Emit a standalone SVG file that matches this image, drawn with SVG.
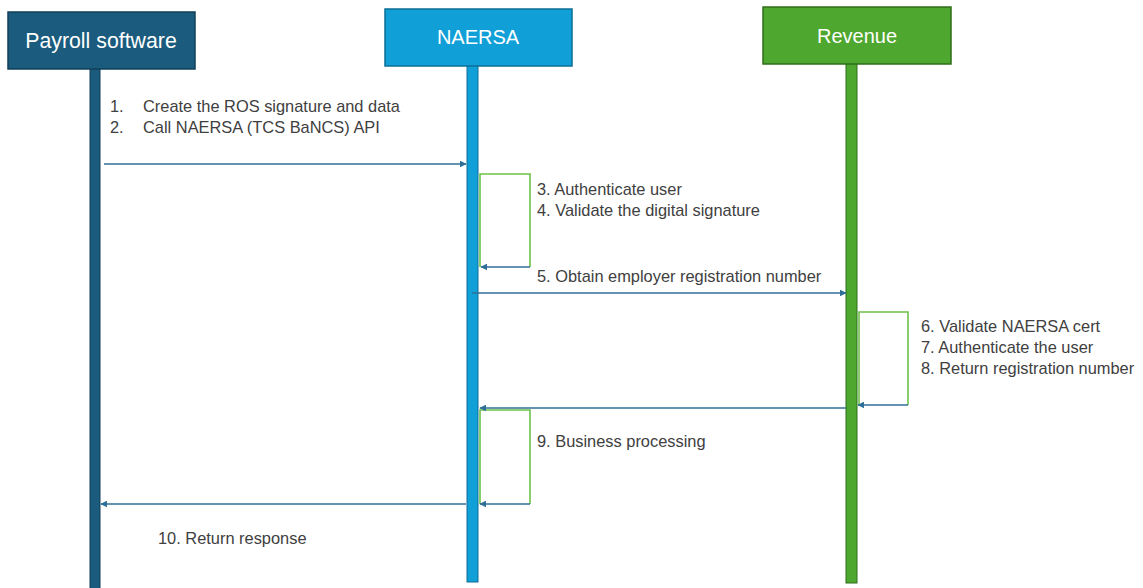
<svg xmlns="http://www.w3.org/2000/svg" width="1143" height="588" viewBox="0 0 1143 588">
<style>
.hdr{font-family:"Liberation Sans",Arial,sans-serif;font-size:20px;fill:#ffffff;text-anchor:middle}
.lbl{font-family:"Liberation Sans",Arial,sans-serif;font-size:16.4px;fill:#404040}
.msg{stroke:#2f6f97;stroke-width:1.6;fill:none;marker-end:url(#ah)}
.loop{stroke:#6cc24a;stroke-width:1.6;fill:none}
</style>
<defs>
<marker id="ah" viewBox="0 0 10 10" refX="9" refY="5" markerWidth="7" markerHeight="7" markerUnits="userSpaceOnUse" orient="auto">
<path d="M0,0 L10,5 L0,10 z" fill="#2f6f97"/>
</marker>
</defs>
<rect width="1143" height="588" fill="#ffffff"/>
<g id="payroll">
<rect x="90" y="68" width="10" height="522" fill="#1b5b7d" stroke="#123f58" stroke-width="1"/>
<rect x="8" y="12" width="187" height="57" fill="#1b5b7d" stroke="#123f58" stroke-width="1.5"/>
<text class="hdr" x="101" y="48" style="font-size:21.3px">Payroll software</text>
</g>
<g id="naersa">
<rect x="467" y="65" width="11" height="517" fill="#119fd7" stroke="#0c6e98" stroke-width="1"/>
<rect x="385" y="9" width="187" height="57" fill="#119fd7" stroke="#0c6e98" stroke-width="1.5"/>
<text class="hdr" x="478" y="44">NAERSA</text>
</g>
<g id="revenue">
<rect x="846" y="63" width="11" height="520" fill="#4ea72e" stroke="#2f6e1a" stroke-width="1"/>
<rect x="763" y="7" width="188" height="57" fill="#4ea72e" stroke="#2f6e1a" stroke-width="1.5"/>
<text class="hdr" x="857" y="43">Revenue</text>
</g>
<g id="loops">
<polyline class="loop" points="480,267 480,174 530,174 530,267"/>
<polyline class="loop" points="859,405 859,312 908,312 908,405"/>
<polyline class="loop" points="480,504 480,410 530,410 530,504"/>
</g>
<g id="connectors">
<line class="msg" x1="104" y1="164" x2="466" y2="164"/>
<line class="msg" x1="530" y1="267" x2="481" y2="267"/>
<line class="msg" x1="472" y1="293" x2="846" y2="293"/>
<line class="msg" x1="908" y1="405" x2="858" y2="405"/>
<line class="msg" x1="846" y1="408" x2="480" y2="408"/>
<line class="msg" x1="530" y1="504" x2="480" y2="504"/>
<line class="msg" x1="466" y1="504" x2="101" y2="504"/>
</g>
<g id="labels">
<text class="lbl" x="110" y="112">1.</text>
<text class="lbl" x="143" y="112">Create the ROS signature and data</text>
<text class="lbl" x="110" y="133">2.</text>
<text class="lbl" x="143" y="133">Call NAERSA (TCS BaNCS) API</text>
<text class="lbl" x="537" y="195">3. Authenticate user</text>
<text class="lbl" x="537" y="216">4. Validate the digital signature</text>
<text class="lbl" x="537" y="282">5. Obtain employer registration number</text>
<text class="lbl" x="921" y="332">6. Validate NAERSA cert</text>
<text class="lbl" x="921" y="353">7. Authenticate the user</text>
<text class="lbl" x="921" y="374">8. Return registration number</text>
<text class="lbl" x="537" y="447">9. Business processing</text>
<text class="lbl" x="158" y="544">10. Return response</text>
</g>
</svg>
